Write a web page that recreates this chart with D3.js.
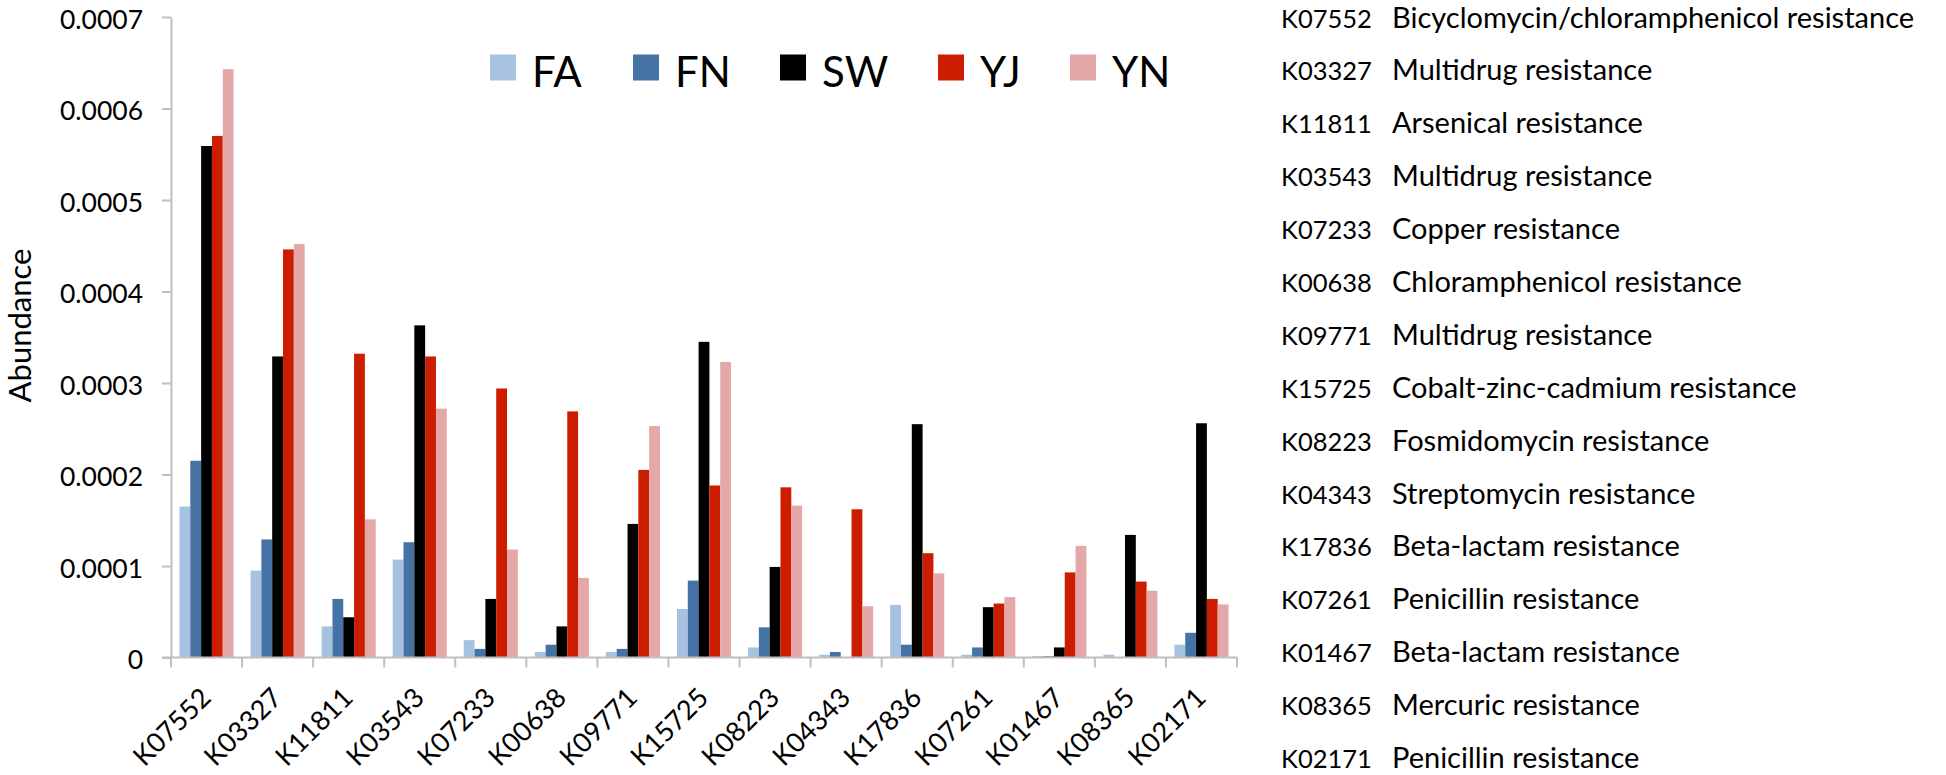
<!DOCTYPE html>
<html>
<head>
<meta charset="utf-8">
<script src="https://cdn.jsdelivr.net/npm/d3@7"></script>
<style>
  html, body { margin: 0; padding: 0; background: #ffffff; }
  svg { display: block; }
  text { font-family: Lato, "Open Sans", sans-serif; fill: #000; }
</style>
</head>
<body>
<svg id="chart" width="1946" height="775"></svg>
<script>
// ---- data ----
const categories = ["K07552","K03327","K11811","K03543","K07233","K00638","K09771","K15725","K08223","K04343","K17836","K07261","K01467","K08365","K02171"];
const seriesNames = ["FA","FN","SW","YJ","YN"];
const seriesColors = ["#a7c2e1","#4673a5","#000000","#cd1d00","#e3a8a7"];
const FA = [0.000165,0.000095,0.000034,0.000107,0.000019,0.000006,0.000006,0.000053,0.000011,0.000003,0.0000575,0.000003,0.0000015,0.000003,0.000014];
const FN = [0.000215,0.000129,0.000064,0.000126,0.0000094,0.000014,0.0000094,0.000084,0.000033,0.000006,0.000014,0.000011,0.0000015,0,0.000027];
const SW = [0.000559,0.000329,0.000044,0.000363,0.000064,0.000034,0.000146,0.000345,0.000099,0,0.000255,0.000055,0.000011,0.000134,0.000256];
const YJ = [0.00057,0.000446,0.000332,0.000329,0.000294,0.000269,0.000205,0.000188,0.000186,0.000162,0.000114,0.000059,0.000093,0.000083,0.000064];
const YN = [0.000643,0.000452,0.000151,0.000272,0.000118,0.000087,0.000253,0.000323,0.000166,0.000056,0.000092,0.000066,0.000122,0.000073,0.000058];
const yTicks = [0,0.0001,0.0002,0.0003,0.0004,0.0005,0.0006,0.0007];
const yTickLabels = ["0","0.0001","0.0002","0.0003","0.0004","0.0005","0.0006","0.0007"];
const yTitle = "Abundance";
const descriptions = ["Bicyclomycin/chloramphenicol resistance","Multidrug resistance","Arsenical resistance","Multidrug resistance","Copper resistance","Chloramphenicol resistance","Multidrug resistance","Cobalt-zinc-cadmium resistance","Fosmidomycin resistance","Streptomycin resistance","Beta-lactam resistance","Penicillin resistance","Beta-lactam resistance","Mercuric resistance","Penicillin resistance"];

const seriesValues = [FA, FN, SW, YJ, YN];

// ---- layout ----
const svg = d3.select("#chart");
const plotLeft = 171, plotRight = 1237, plotTop = 17, plotBottom = 657.5;
const axisColor = "#bfbfbf";

const x0 = d3.scaleBand().domain(categories).range([plotLeft, plotRight]).padding(0);
const x1 = d3.scaleBand().domain(seriesNames).range([8.5, x0.bandwidth() - 8.5]).padding(0);
const y = d3.scaleLinear().domain([0, 0.0007]).range([plotBottom, plotTop]);

// bars
const groups = svg.append("g").selectAll("g")
  .data(categories)
  .join("g")
  .attr("transform", d => `translate(${x0(d)},0)`);

groups.selectAll("rect")
  .data((c, i) => seriesNames.map((s, k) => ({ s, k, v: seriesValues[k][i] })))
  .join("rect")
  .attr("x", d => x1(d.s))
  .attr("width", x1.bandwidth())
  .attr("y", d => y(d.v))
  .attr("height", d => y(0) - y(d.v))
  .attr("fill", d => seriesColors[d.k]);

// y axis
const yAxis = d3.axisLeft(y)
  .tickValues(yTicks)
  .tickFormat((d, i) => yTickLabels[i])
  .tickSize(9)
  .tickSizeOuter(0)
  .tickPadding(19);
const gy = svg.append("g").attr("transform", `translate(${plotLeft},0)`).call(yAxis);
gy.select(".domain").attr("stroke", axisColor).attr("stroke-width", 2);
gy.selectAll(".tick line").attr("stroke", axisColor).attr("stroke-width", 2);
gy.selectAll(".tick text")
  .attr("font-family", "Lato")
  .attr("font-size", 26.5)
  .attr("fill", "#000")
  .attr("dy", "0.42em");

// x axis line
svg.append("line")
  .attr("x1", plotLeft - 9).attr("x2", plotRight)
  .attr("y1", y(0)).attr("y2", y(0))
  .attr("stroke", axisColor).attr("stroke-width", 2);

// x boundary ticks
const boundaries = categories.map(c => x0(c)).concat([x0(categories[categories.length - 1]) + x0.bandwidth()]);
svg.append("g").selectAll("line")
  .data(boundaries)
  .join("line")
  .attr("x1", d => d).attr("x2", d => d)
  .attr("y1", y(0)).attr("y2", y(0) + 10)
  .attr("stroke", axisColor).attr("stroke-width", 2);

// x labels
svg.append("g").selectAll("text")
  .data(categories)
  .join("text")
  .attr("transform", d => `translate(${x0(d) + x0.bandwidth() / 2 + 6},${y(0) + 42}) rotate(-45)`)
  .attr("text-anchor", "end")
  .attr("font-size", 27)
  .text(d => d);

// y title
svg.append("text")
  .attr("transform", `translate(31,${(248 + 403) / 2}) rotate(-90)`)
  .attr("text-anchor", "middle")
  .attr("font-size", 31)
  .text(yTitle);

// legend
const legendX = [490, 633, 780, 938, 1070];
const legend = svg.append("g").selectAll("g")
  .data(seriesNames)
  .join("g")
  .attr("transform", (d, i) => `translate(${legendX[i]},54.5)`);
legend.append("rect")
  .attr("width", 26).attr("height", 26)
  .attr("fill", (d, i) => seriesColors[i]);
legend.append("text")
  .attr("x", 42).attr("y", 32.5)
  .attr("font-size", 42)
  .text(d => d);

// right-hand code list
const rowY = d3.scaleLinear().domain([0, categories.length - 1]).range([27.5, 768]);
const list = svg.append("g").selectAll("g")
  .data(categories)
  .join("g")
  .attr("transform", (d, i) => `translate(0,${rowY(i)})`);
list.append("text").attr("x", 1281).attr("font-size", 25.5).text(d => d);
list.append("text").attr("x", 1392).attr("font-size", 29).text((d, i) => descriptions[i]);
</script>
</body>
</html>
